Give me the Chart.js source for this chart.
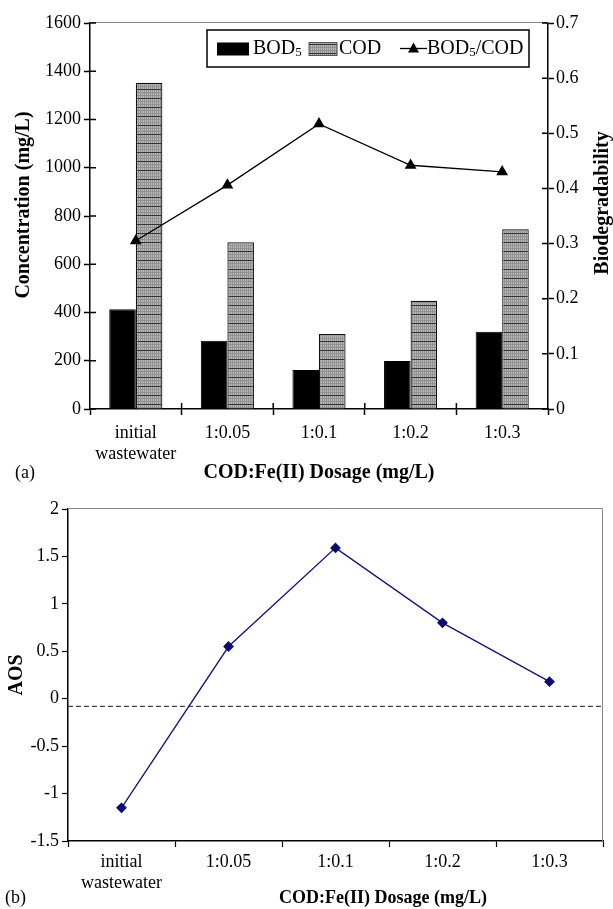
<!DOCTYPE html>
<html>
<head>
<meta charset="utf-8">
<script src="https://cdn.jsdelivr.net/npm/chart.js@4.4.0/dist/chart.umd.min.js"></script>
<style>
  body { margin: 0; background: #fff; }
  #c1 { position: absolute; left: 0; top: 0; }
  #c2 { position: absolute; left: 0; top: 490px; }
</style>
</head>
<body>
<canvas id="c1" width="613" height="490"></canvas>
<canvas id="c2" width="613" height="419"></canvas>
<script>
// data
const categories = [['initial', 'wastewater'], '1:0.05', '1:0.1', '1:0.2', '1:0.3'];
const bod5 = [413, 283, 162, 199, 320];
const cod = [1352, 691, 311, 449, 745];
const ratio = [0.305, 0.406, 0.517, 0.442, 0.430];
const aos = [-1.15, 0.55, 1.59, 0.80, 0.18];
const aosRef = -0.08;   // dashed reference line

const SERIF = "'Liberation Serif', 'Times New Roman', serif";
Chart.defaults.font.family = SERIF;
Chart.defaults.color = '#000';

// plain number labels: 1600, 0.3, -1 ...
const plainTick = v => String(Number(v.toFixed(2)));

// grey checkered fill for the COD bars
function makePattern() {
  const t = document.createElement('canvas');
  t.width = 4; t.height = 9;
  const g = t.getContext('2d');
  g.fillStyle = '#b9b9b9';
  g.fillRect(0, 0, 4, 9);
  g.fillStyle = '#929292';
  g.fillRect(0, 0, 1, 9);
  g.fillRect(2, 0, 1, 9);
  g.fillRect(0, 2, 4, 1);
  g.fillRect(0, 5, 4, 1);
  g.fillStyle = '#333';
  g.fillRect(0, 8, 4, 1);
  return g.createPattern(t, 'repeat');
}
const codPattern = makePattern();

// text with a subscript "5" after BOD
function drawBodText(ctx, parts, x, y, size) {
  ctx.textBaseline = 'middle';
  ctx.textAlign = 'left';
  parts.forEach(p => {
    if (p.sub) {
      ctx.font = (size * 0.65) + 'px ' + SERIF;
      ctx.fillText(p.t, x, y + size * 0.22);
    } else {
      ctx.font = size + 'px ' + SERIF;
      ctx.fillText(p.t, x, y);
    }
    x += ctx.measureText(p.t).width;
  });
}

const topExtras = {
  id: 'topExtras',
  afterDraw(chart) {
    const ctx = chart.ctx;
    const a = chart.chartArea;
    const {x, y, y1} = chart.scales;
    ctx.save();
    // grey frame line on top
    ctx.strokeStyle = '#888';
    ctx.lineWidth = 1;
    ctx.beginPath();
    ctx.moveTo(a.left, a.top - 0.5);
    ctx.lineTo(a.right, a.top - 0.5);
    ctx.stroke();

    // inner half of the tick marks (they cross the axes)
    ctx.strokeStyle = '#000';
    ctx.lineWidth = 1.5;
    ctx.beginPath();
    y.ticks.forEach((t, i) => {
      const py = y.getPixelForTick(i);
      ctx.moveTo(a.left, py); ctx.lineTo(a.left + 6, py);
    });
    y1.ticks.forEach((t, i) => {
      const py = y1.getPixelForTick(i);
      ctx.moveTo(a.right, py); ctx.lineTo(a.right - 6, py);
    });
    for (let i = 1; i < categories.length; i++) {
      const px = (x.getPixelForValue(i - 1) + x.getPixelForValue(i)) / 2;
      ctx.moveTo(px, a.bottom); ctx.lineTo(px, a.bottom - 6);
    }
    ctx.stroke();

    // legend box
    const bx = a.right - 341, by = a.top + 7, bw = 322, bh = 37;
    ctx.lineWidth = 1.5;
    ctx.strokeRect(bx, by, bw, bh);
    const cy = by + bh / 2;
    ctx.fillStyle = '#000';
    ctx.fillRect(bx + 10, cy - 6, 32, 13);
    drawBodText(ctx, [{t: 'BOD'}, {t: '5', sub: true}], bx + 46, cy, 20);
    ctx.fillStyle = codPattern;
    ctx.fillRect(bx + 102, cy - 6, 28, 13);
    ctx.strokeStyle = '#555';
    ctx.lineWidth = 1;
    ctx.strokeRect(bx + 102, cy - 6, 28, 13);
    ctx.fillStyle = '#000';
    drawBodText(ctx, [{t: 'COD'}], bx + 132, cy, 20);
    ctx.strokeStyle = '#000';
    ctx.lineWidth = 1.3;
    ctx.beginPath();
    ctx.moveTo(bx + 193, cy);
    ctx.lineTo(bx + 220, cy);
    ctx.stroke();
    ctx.beginPath();
    ctx.moveTo(bx + 206.5, cy - 6);
    ctx.lineTo(bx + 212, cy + 4);
    ctx.lineTo(bx + 201, cy + 4);
    ctx.closePath();
    ctx.fill();
    drawBodText(ctx, [{t: 'BOD'}, {t: '5', sub: true}, {t: '/COD'}], bx + 220, cy, 20);

    // axis titles read bottom-to-top
    ctx.font = 'bold 20px ' + SERIF;
    ctx.textAlign = 'center';
    ctx.textBaseline = 'middle';
    ctx.save();
    ctx.translate(24, 205);
    ctx.rotate(-Math.PI / 2);
    ctx.fillText('Concentration (mg/L)', 0, 0);
    ctx.restore();
    ctx.save();
    ctx.translate(603, 203);
    ctx.rotate(-Math.PI / 2);
    ctx.fillText('Biodegradability', 0, 0);
    ctx.restore();

    ctx.font = '18px ' + SERIF;
    ctx.textAlign = 'left';
    ctx.fillText('(a)', 15, 473);
    ctx.restore();
  }
};

new Chart(document.getElementById('c1').getContext('2d'), {
  type: 'bar',
  data: {
    labels: categories,
    datasets: [
      {
        type: 'line', label: 'BOD5/COD', data: ratio, yAxisID: 'y1', order: 0,
        borderColor: '#000', borderWidth: 1.3, tension: 0,
        pointStyle: 'triangle', pointRadius: 5.5,
        pointBackgroundColor: '#000', pointBorderColor: '#000'
      },
      {
        label: 'BOD5', data: bod5, yAxisID: 'y', order: 1,
        backgroundColor: '#000', borderColor: '#000', borderWidth: 1
      },
      {
        label: 'COD', data: cod, yAxisID: 'y', order: 1,
        backgroundColor: codPattern, borderColor: '#111', borderWidth: 1.2
      }
    ]
  },
  options: {
    responsive: false,
    animation: false,
    categoryPercentage: 0.58,
    barPercentage: 1.0,
    layout: { padding: { top: 23, left: 0, right: 0, bottom: 0 } },
    plugins: { legend: { display: false }, tooltip: { enabled: false } },
    scales: {
      x: {
        offset: true,
        grid: { offset: true, drawOnChartArea: false, tickLength: 6, tickColor: '#000', tickWidth: 1.5 },
        border: { color: '#000', width: 1.5 },
        ticks: { font: { size: 18 }, padding: 7, maxRotation: 0, autoSkip: false },
        title: {
          display: true, text: 'COD:Fe(II) Dosage (mg/L)',
          font: { size: 20, weight: 'bold' }, padding: { top: 0, bottom: 5 }
        },
        afterFit(s) { s.height = 81; }
      },
      y: {
        position: 'left', min: 0, max: 1600,
        ticks: { stepSize: 200, font: { size: 18 }, padding: 3, callback: plainTick },
        grid: { drawOnChartArea: false, tickLength: 6, tickColor: '#000', tickWidth: 1.5 },
        border: { color: '#000', width: 1.5 },
        afterFit(s) { s.width = 90; }
      },
      y1: {
        position: 'right', min: 0, max: 0.7,
        ticks: { stepSize: 0.1, font: { size: 18 }, padding: 2, callback: plainTick },
        grid: { drawOnChartArea: false, tickLength: 6, tickColor: '#000', tickWidth: 1.5 },
        border: { color: '#000', width: 1.5 },
        afterFit(s) { s.width = 65; }
      }
    }
  },
  plugins: [topExtras]
});

const bottomExtras = {
  id: 'bottomExtras',
  beforeDatasetsDraw(chart) {
    const ctx = chart.ctx;
    const a = chart.chartArea;
    const y = chart.scales.y.getPixelForValue(aosRef);
    ctx.save();
    ctx.strokeStyle = '#444';
    ctx.lineWidth = 1.2;
    ctx.setLineDash([5, 3]);
    ctx.beginPath();
    ctx.moveTo(a.left, y);
    ctx.lineTo(a.right, y);
    ctx.stroke();
    ctx.restore();
  },
  afterDraw(chart) {
    const ctx = chart.ctx;
    const a = chart.chartArea;
    ctx.save();
    ctx.strokeStyle = '#888';
    ctx.lineWidth = 1;
    ctx.beginPath();
    ctx.moveTo(a.left, a.top - 0.5);
    ctx.lineTo(a.right - 0.5, a.top - 0.5);
    ctx.lineTo(a.right - 0.5, a.bottom);
    ctx.stroke();
    ctx.fillStyle = '#000';
    ctx.textBaseline = 'middle';
    ctx.textAlign = 'center';
    ctx.font = 'bold 18px ' + SERIF;
    ctx.fillText('COD:Fe(II) Dosage (mg/L)', 383, 408);
    ctx.font = '18px ' + SERIF;
    ctx.textAlign = 'left';
    ctx.fillText('(b)', 5, 408);
    ctx.restore();
  }
};

new Chart(document.getElementById('c2').getContext('2d'), {
  type: 'line',
  data: {
    labels: categories,
    datasets: [{
      label: 'AOS', data: aos,
      borderColor: '#14147a', borderWidth: 1.3, tension: 0,
      pointStyle: 'rectRot', pointRadius: 4.5,
      pointBackgroundColor: '#0c0c70', pointBorderColor: '#0c0c70'
    }]
  },
  options: {
    responsive: false,
    animation: false,
    layout: { padding: { top: 19, left: 0, right: 10, bottom: 0 } },
    plugins: { legend: { display: false }, tooltip: { enabled: false } },
    scales: {
      x: {
        offset: true,
        grid: { offset: true, drawOnChartArea: false, tickLength: 6, tickColor: '#000', tickWidth: 1.2 },
        border: { color: '#000', width: 1.5 },
        ticks: { font: { size: 18 }, padding: 4, maxRotation: 0, autoSkip: false },
        afterFit(s) { s.height = 68; }
      },
      y: {
        min: -1.5, max: 2,
        ticks: { stepSize: 0.5, font: { size: 18 }, padding: 3, callback: plainTick },
        grid: { drawOnChartArea: false, tickLength: 6, tickColor: '#000', tickWidth: 1.2 },
        border: { color: '#000', width: 1.5 },
        title: { display: true, text: 'AOS', font: { size: 20, weight: 'bold' }, padding: { top: 5, bottom: 0 } },
        afterFit(s) { s.width = 68; }
      }
    }
  },
  plugins: [bottomExtras]
});
</script>
</body>
</html>
